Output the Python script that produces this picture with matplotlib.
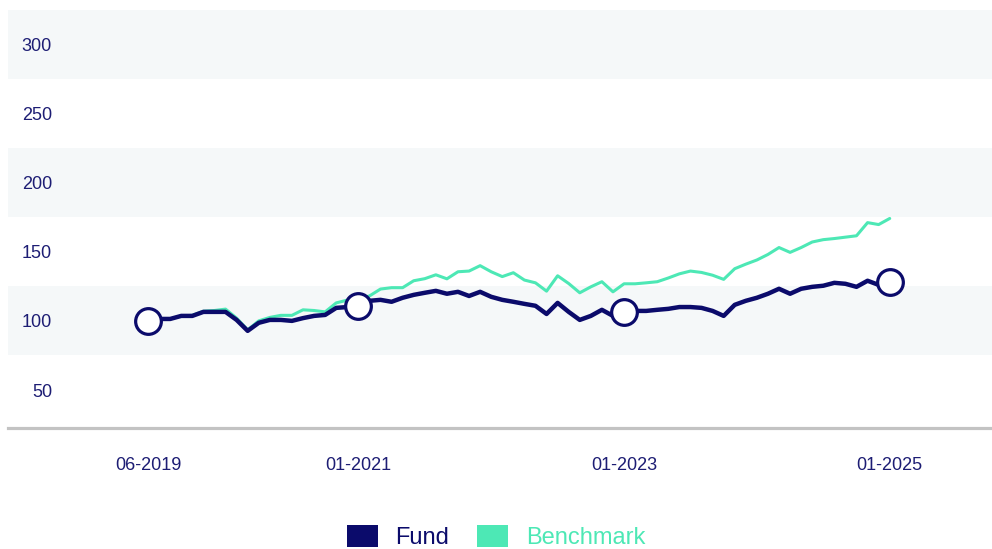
import matplotlib
matplotlib.use("Agg")
import matplotlib.pyplot as plt
from matplotlib.patches import Patch
import numpy as np

plt.rcParams['font.family'] = ['Liberation Sans', 'DejaVu Sans']

# Monthly index values, 06-2019 .. 01-2025 (base 100)
fund = [100.0, 101.4, 101.4, 103.6, 103.6, 106.5, 106.5, 106.5, 100.7, 92.8,
        98.6, 100.7, 100.7, 100.0, 102.0, 103.6, 104.3, 109.4, 110.0, 110.9,
        114.5, 115.2, 113.8, 116.7, 118.8, 120.3, 121.7, 119.6, 121.0, 118.0,
        121.0, 117.4, 115.2, 113.8, 112.3, 110.9, 105.0, 113.0, 106.5, 100.7,
        103.6, 108.0, 103.6, 106.5, 107.2, 107.2, 108.0, 108.7, 110.0, 110.0,
        109.4, 107.2, 103.6, 111.6, 114.5, 116.7, 119.6, 123.2, 119.6, 123.2,
        124.6, 125.4, 127.5, 126.8, 124.6, 129.0, 126.0, 128.3]
benchmark = [100.0, 101.4, 101.4, 103.6, 104.0, 107.0, 107.5, 108.5, 102.0, 93.5,
             100.0, 102.5, 104.0, 104.0, 108.0, 107.5, 106.5, 113.0, 115.0, 116.0,
             118.0, 123.0, 124.0, 124.0, 129.0, 130.5, 133.3, 130.4, 135.5, 136.0,
             139.9, 135.5, 132.0, 134.8, 129.5, 127.5, 121.5, 132.6, 127.0, 120.3,
             124.6, 128.3, 121.0, 126.8, 126.8, 127.5, 128.3, 131.0, 134.0, 136.0,
             135.0, 133.0, 130.0, 137.7, 141.0, 144.0, 148.0, 153.0, 149.5, 153.0,
             157.0, 158.7, 159.5, 160.5, 161.5, 171.0, 169.6, 174.0]

tick_months = [0, 19, 43, 67]
tick_labels = ["06-2019", "01-2021", "01-2023", "01-2025"]
y_ticks = [50, 100, 150, 200, 250, 300]
highlight_idx = [0, 19, 43, 67]

navy = "#0b0b6b"
mint = "#4de8b5"
text_navy = "#1d1d74"
band = "#f5f8f9"

fig = plt.figure(figsize=(9.92, 5.49), dpi=100)
ax = fig.add_axes([8 / 992, 1 - 428 / 549, 984 / 992, (428 - 9.5) / 549])

x = np.arange(len(fund))

# Alternating horizontal bands centred on every other gridline
for v in y_ticks:
    if v % 100 == 0:
        ax.axhspan(v - 25, v + 25, color=band, zorder=0, lw=0)

ax.plot(x, benchmark, color=mint, lw=2.2, solid_joinstyle='round',
        solid_capstyle='round', zorder=2)
ax.plot(x, fund, color=navy, lw=3.2, solid_joinstyle='round',
        solid_capstyle='round', zorder=3)
ax.plot(x[highlight_idx], np.array(fund)[highlight_idx], linestyle='none',
        marker='o', markersize=18.5, markerfacecolor='white',
        markeredgecolor=navy, markeredgewidth=2.3, zorder=4)

ax.set_xlim(-12.65, 76.24)
ax.set_ylim(22.6, 325)

ax.set_xticks(tick_months)
ax.set_xticklabels(tick_labels)
ax.set_yticks(y_ticks)
ax.set_yticklabels([str(v) for v in y_ticks])
ax.tick_params(axis='x', length=0, pad=21, labelsize=13, labelcolor=text_navy)
ax.tick_params(axis='y', length=0, pad=-31.7, labelsize=13, labelcolor=text_navy)
for lbl in ax.get_yticklabels():
    lbl.set_horizontalalignment('right')

for side in ['top', 'left', 'right']:
    ax.spines[side].set_visible(False)
ax.spines['bottom'].set_color('#c3c3c3')
ax.spines['bottom'].set_linewidth(2.3)
ax.set_facecolor('white')

handles = [Patch(facecolor=navy, edgecolor='none'),
           Patch(facecolor=mint, edgecolor='none')]
leg = fig.legend(handles, ["Fund", "Benchmark"], loc='center',
                 bbox_to_anchor=(0.5, 0.022), ncol=2, frameon=False,
                 fontsize=17, handlelength=1.3, handleheight=1.05,
                 handletextpad=0.75, columnspacing=1.2)
for t, c in zip(leg.get_texts(), [navy, mint]):
    t.set_color(c)

fig.savefig("out.png", dpi=100)
